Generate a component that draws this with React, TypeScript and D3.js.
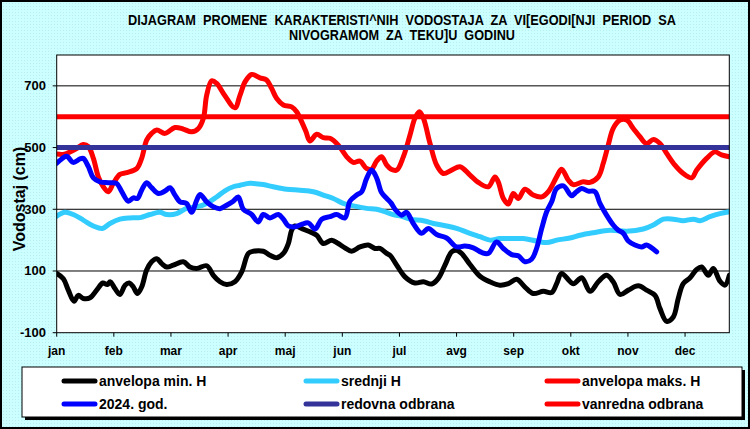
import React from "react";
import * as d3 from "d3";

const W = 750;
const H = 429;

const monthLabels = ["jan", "feb", "mar", "apr", "maj", "jun", "jul", "avg", "sep", "okt", "nov", "dec"];
const yTicks = [-100, 100, 300, 500, 700];

const titleLines = [
  "DIJAGRAM  PROMENE  KARAKTERISTI^NIH  VODOSTAJA  ZA  VI[EGODI[NJI  PERIOD  SA",
  "NIVOGRAMOM  ZA  TEKU]U  GODINU",
];
const titleWidths = [548, 226];

// [day of year, water level cm]
const minEnvelope: [number, number][] = [
  [0, 92], [3.6, 75], [6.3, 38], [9.4, 2], [11.7, 21], [14.4, 11], [18.1, 13], [21.7, 38], [25, 61], [27.5, 56],
  [29, 65], [31.6, 43], [34.3, 24], [37.1, 54], [39.4, 61], [41.6, 48], [43.8, 27], [46.1, 48], [48.8, 103],
  [51.5, 130], [54.3, 140], [57, 124], [59.7, 113], [63.3, 119], [68.7, 130], [72.3, 113], [76, 108], [81.4, 117],
  [85, 86], [88.6, 65], [92.2, 56], [96.7, 65], [100.4, 97], [104, 157], [106.7, 164], [112.1, 164], [115.7, 151],
  [119.4, 143], [123, 157], [125.7, 189], [127.5, 232], [129.3, 246], [132.9, 238], [137.4, 227], [141.1, 216],
  [144.7, 189], [149.2, 200], [152.8, 189], [156.4, 175], [160, 164], [164.6, 178], [169.1, 184], [172.7, 173],
  [175.4, 173], [179.1, 157], [181, 150], [184.5, 119], [189, 81], [194.4, 61], [199, 65], [203.5, 58], [207.1, 76],
  [210.7, 119], [214.3, 162], [217, 167], [219.7, 157], [224.3, 121], [229.7, 83], [235.1, 65], [240.5, 54],
  [245.1, 59], [249.6, 73], [254.1, 48], [258.6, 27], [264.1, 34], [268.6, 30], [271.3, 59], [274, 92], [280.3, 59],
  [284.9, 78], [289.4, 34], [293.9, 65], [298.4, 86], [302, 65], [305.7, 24], [310.2, 38], [315.6, 52], [320.1, 38],
  [324.7, 21], [327.4, -22], [331, -63], [334.6, -49], [337.3, 11], [340, 59], [343.7, 78], [347.3, 105], [350, 113],
  [353.6, 86], [356.3, 108], [359.9, 67], [362.6, 54], [365, 86],
];

const meanLevel: [number, number][] = [
  [0, 278], [4.5, 290], [9, 283], [14.4, 265], [19.9, 246], [24.8, 238], [28.9, 254], [34.3, 268], [39.8, 272],
  [45.2, 273], [50.6, 283], [56, 290], [59.7, 283], [65.1, 286], [70.5, 303], [75.9, 308], [81.4, 319], [86.8, 340],
  [91.3, 360], [95.8, 373], [99.5, 378], [104.9, 384], [112.1, 380], [117.5, 373], [124.8, 365], [132, 362],
  [139.3, 357], [144.7, 346], [150.1, 335], [155.5, 319], [161, 311], [168.2, 303], [173.6, 300], [179.1, 290],
  [183.6, 281], [186.3, 279], [191.7, 268], [199, 263], [204.4, 254], [211.6, 246], [217, 238], [224.3, 222],
  [229.7, 211], [235.1, 200], [240.5, 205], [247.8, 205], [253.2, 205], [260.4, 197], [265.9, 192], [271.3, 200],
  [278.5, 207], [284, 216], [291.2, 224], [300.2, 232], [309.3, 229], [318.3, 236], [323.8, 249], [329.2, 268],
  [334.6, 268], [340, 263], [345.5, 268], [349.1, 263], [354.5, 276], [359.9, 286], [365, 292],
];

const maxEnvelope: [number, number][] = [
  [0, 479], [3.6, 478], [7.2, 486], [10.8, 497], [14.4, 510], [17.2, 503], [19.9, 465], [22.6, 405], [25.3, 373],
  [28, 357], [30.7, 384], [34.3, 413], [38, 419], [43.4, 432], [46.1, 465], [48.8, 524], [51.5, 546], [54.3, 557],
  [58.8, 546], [64.2, 565], [68.7, 560], [73.2, 551], [76.9, 562], [79.6, 595], [81.4, 670], [84.1, 716],
  [86.8, 708], [91.3, 668], [96.7, 629], [99.5, 670], [102.2, 713], [105.8, 737], [110.3, 726], [113.9, 719],
  [116.6, 692], [119.4, 659], [123, 638], [127.5, 632], [130.2, 616], [132.9, 584], [135.3, 551], [137.4, 521],
  [141.1, 543], [144.7, 532], [148.3, 530], [152.8, 508], [157.4, 470], [160.9, 452], [164.6, 456], [168.2, 432],
  [170.9, 430], [173.6, 456], [176.3, 470], [179.1, 443], [181.5, 430], [184.5, 427], [188.1, 470], [191.7, 540],
  [194.4, 595], [196.8, 616], [199, 595], [202.6, 513], [206.2, 443], [209.8, 416], [214.3, 427], [218.8, 438],
  [224.3, 411], [228.8, 387], [234.2, 373], [237.8, 405], [239.6, 389], [242.4, 335], [245.1, 317], [247.8, 351],
  [250.5, 335], [254.1, 365], [258.6, 346], [263.2, 340], [266.8, 357], [271.3, 405], [274, 430], [277.6, 395],
  [280.3, 380], [285.8, 389], [289.4, 387], [293.9, 405], [296.6, 449], [299.3, 508], [302, 562], [305.7, 589],
  [309.3, 589], [312.9, 562], [316.5, 535], [320.1, 513], [323.8, 526], [327.4, 513], [331, 481], [335.5, 443],
  [340, 416], [344.6, 402], [347.3, 427], [352.7, 465], [357.2, 486], [360.8, 476], [365, 470],
];

const year2024: [number, number][] = [
  [0, 449], [2.7, 463], [5.4, 472], [9, 452], [12.6, 463], [14.4, 465], [17.2, 438], [19.9, 402], [23.5, 389],
  [28, 386], [32.5, 384], [35.3, 357], [38.9, 326], [41.6, 337], [43.8, 335], [46.1, 362], [48.8, 386], [51.5, 370],
  [55.2, 351], [58.8, 359], [61.5, 370], [64.2, 346], [66.9, 324], [70.5, 319], [73.2, 290], [76, 330], [77.8, 348],
  [81.4, 324], [85, 308], [88.6, 302], [92.2, 313], [95.8, 326], [98.5, 340], [101.3, 300], [105.8, 283],
  [109.4, 259], [112.1, 283], [115.7, 272], [120.3, 283], [123, 268], [125.7, 246], [129.3, 243], [132.9, 251],
  [136.5, 256], [140.2, 236], [143.8, 268], [148.3, 276], [151.9, 283], [156.4, 272], [159.1, 326], [162.8, 346],
  [165.5, 357], [168.2, 400], [170.9, 427], [173.6, 402], [176.3, 354], [179.1, 335], [181.5, 320], [183.6, 300],
  [187.2, 281], [189.9, 290], [193.5, 254], [198, 222], [201.7, 238], [206.2, 218], [211.6, 207], [217, 178],
  [221.5, 181], [226.1, 175], [230.6, 160], [234.2, 157], [238.7, 194], [242.4, 173], [246.9, 153], [250.5, 149],
  [254.1, 130], [257.7, 138], [260.4, 173], [263.2, 238], [265.9, 292], [268.6, 324], [271.3, 367], [275, 376],
  [279.4, 344], [282.1, 357], [284.9, 367], [288.5, 359], [292.1, 357], [294.8, 319], [298.4, 281], [302, 249],
  [304.8, 232], [307.5, 222], [310.2, 197], [313.8, 184], [317.4, 178], [320.1, 184], [322.9, 175], [325.6, 162],
];

const regularDefence = 500;
const emergencyDefence = 600;

const legendItems = [
  { label: "anvelopa min. H", color: "#000000" },
  { label: "srednji H", color: "#33CCFF" },
  { label: "anvelopa maks. H", color: "#FF0000" },
  { label: "2024. god.", color: "#0000FF" },
  { label: "redovna odbrana", color: "#333399" },
  { label: "vanredna odbrana", color: "#FF0000" },
];

export default function App() {
  const left = 56.7;
  const right = 729.3;
  const top = 55;
  const bottom = 332.7;

  const x = d3.scaleLinear().domain([0, 365]).range([left, right]);
  const y = d3.scaleLinear().domain([-100, 800]).range([bottom, top]);

  const line = d3
    .line<[number, number]>()
    .x((d) => x(d[0]))
    .y((d) => y(d[1]))
    .curve(d3.curveCatmullRom.alpha(0.5));

  const font = "'Liberation Sans', Arial, sans-serif";
  const series = [
    { data: minEnvelope, color: "#000000" },
    { data: meanLevel, color: "#33CCFF" },
    { data: maxEnvelope, color: "#FF0000" },
    { data: year2024, color: "#0000FF" },
  ];

  const legCols = [62, 304, 545];
  const legRows = [381, 404];

  return (
    <svg
      width={W}
      height={H}
      style={{ position: "absolute", left: 0, top: 0, display: "block" }}
      xmlns="http://www.w3.org/2000/svg"
    >
      <defs>
        <pattern id="bgdots" width="3" height="3" patternUnits="userSpaceOnUse">
          <rect width="3" height="3" fill="#CCFFFF" />
          <rect x="0" y="0" width="1" height="1" fill="#B8EEF0" />
        </pattern>
        <clipPath id="plotclip">
          <rect x={left} y={top} width={right - left} height={bottom - top} />
        </clipPath>
      </defs>
      <rect x={0} y={0} width={W} height={H} fill="url(#bgdots)" />
      <rect x={1} y={1} width={W - 2} height={H - 2} fill="none" stroke="#000" strokeWidth={2} />

      {titleLines.map((t, i) => (
        <text
          key={i}
          x={402}
          y={25 + i * 15}
          textAnchor="middle"
          fontFamily={font}
          fontWeight="bold"
          fontSize={14}
          textLength={titleWidths[i]}
          lengthAdjust="spacingAndGlyphs"
          fill="#000"
          style={{ whiteSpace: "pre" }}
        >
          {t}
        </text>
      ))}

      <rect x={left} y={top} width={right - left} height={bottom - top} fill="#fff" />
      {yTicks.map((v) => (
        <g key={v}>
          {v !== -100 && (
            <line x1={left} x2={right} y1={y(v)} y2={y(v)} stroke="#000" strokeWidth={1} />
          )}
          <line x1={left - 4} x2={left} y1={y(v)} y2={y(v)} stroke="#000" strokeWidth={1} />
          <text
            x={46}
            y={y(v) + 4.5}
            textAnchor="end"
            fontFamily={font}
            fontWeight="bold"
            fontSize={13}
            fill="#000"
          >
            {v}
          </text>
        </g>
      ))}

      {monthLabels.map((m, i) => (
        <g key={m}>
          <line x1={x(i * 31)} x2={x(i * 31)} y1={bottom} y2={bottom + 4} stroke="#000" strokeWidth={1} />
          <text
            x={x(i * 31)}
            y={355}
            textAnchor="middle"
            fontFamily={font}
            fontWeight="bold"
            fontSize={12}
            fill="#000"
          >
            {m}
          </text>
        </g>
      ))}

      <g clipPath="url(#plotclip)">
        {series.map((s, i) => (
          <path
            key={i}
            d={line(s.data) || ""}
            fill="none"
            stroke={s.color}
            strokeWidth={5}
            strokeLinejoin="round"
            strokeLinecap="round"
          />
        ))}
        <line x1={left} x2={right} y1={y(regularDefence)} y2={y(regularDefence)} stroke="#333399" strokeWidth={5} />
        <line x1={left} x2={right} y1={y(emergencyDefence)} y2={y(emergencyDefence)} stroke="#FF0000" strokeWidth={5} />
      </g>
      <rect x={left} y={top} width={right - left} height={bottom - top} fill="none" stroke="#000" strokeWidth={1} />

      <text
        transform={`translate(25,${199}) rotate(-90)`}
        textAnchor="middle"
        fontFamily={font}
        fontWeight="bold"
        fontSize={16}
        fill="#000"
      >
        Vodostaj (cm)
      </text>

      <rect x={25} y={370} width={720} height={50} fill="#000" />
      <rect x={22} y={367} width={720} height={50} fill="#fff" stroke="#000" strokeWidth={1} />
      {legendItems.map((it, i) => {
        const cx = legCols[i % 3];
        const cy = legRows[Math.floor(i / 3)];
        return (
          <g key={it.label}>
            <line x1={cx + 2} x2={cx + 33} y1={cy} y2={cy} stroke={it.color} strokeWidth={5} strokeLinecap="round" />
            <text
              x={cx + 37}
              y={cy + 5}
              fontFamily={font}
              fontWeight="bold"
              fontSize={14}
              fill="#000"
            >
              {it.label}
            </text>
          </g>
        );
      })}
    </svg>
  );
}
